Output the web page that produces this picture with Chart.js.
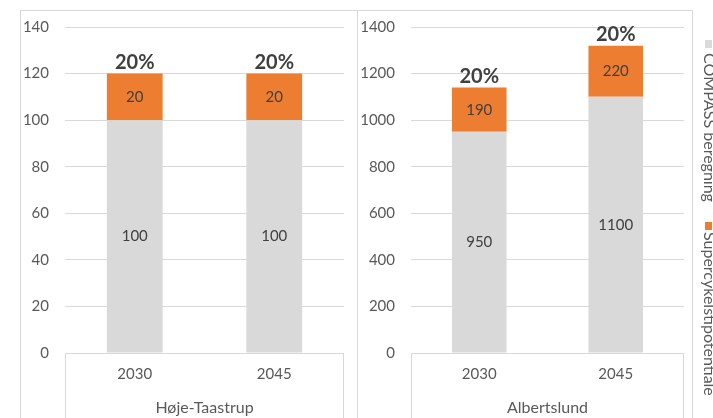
<!DOCTYPE html>
<html>
<head>
<meta charset="utf-8">
<script src="https://cdn.jsdelivr.net/npm/chart.js@4.4.1/dist/chart.umd.min.js"></script>
<style>
html,body{margin:0;padding:0;background:#fff;width:713px;height:418px;overflow:hidden;position:relative;}
.panel{position:absolute;top:10px;height:420px;border:1px solid #d9d9d9;box-sizing:border-box;}
canvas{position:absolute;}
</style>
</head>
<body>
<div class="panel" style="left:20px;width:338px"></div>
<div class="panel" style="left:357px;width:336px"></div>
<canvas id="c1" style="left:20px;top:10px" width="337" height="408"></canvas>
<canvas id="c2" style="left:357px;top:10px" width="356" height="408"></canvas>
<script>
const categories = ['2030', '2045'];
const groupLabels = ['Høje-Taastrup', 'Albertslund'];
const seriesNames = ['COMPASS beregning', 'Supercykelstipotentiale'];
const compassHT = [100, 100];
const superHT = [20, 20];
const compassAL = [950, 1100];
const superAL = [190, 220];
const pctHT = ['20%', '20%'];
const pctAL = ['20%', '20%'];
const yMaxHT = 140, yStepHT = 20;
const yMaxAL = 1400, yStepAL = 200;

const GRAY = '#d9d9d9', ORANGE = '#ed7d31', TXT = '#595959', DARK = '#404040';
const FONT = 'Lato';

const extras = {
  id: 'extras',
  afterDatasetsDraw(chart, args, opts) {
    const ctx = chart.ctx, a = chart.chartArea, H = chart.height;
    ctx.save();
    // category box
    ctx.strokeStyle = GRAY; ctx.lineWidth = 1;
    ctx.beginPath();
    const l = Math.round(a.left) + 0.5, r = Math.round(a.right) - 0.5;
    ctx.moveTo(l, a.bottom); ctx.lineTo(l, H);
    ctx.moveTo(r, a.bottom); ctx.lineTo(r, H);
    ctx.stroke();
    // group label
    ctx.fillStyle = TXT; ctx.font = '16px ' + FONT;
    ctx.textAlign = 'center'; ctx.textBaseline = 'middle';
    ctx.fillText(opts.group, (a.left + a.right) / 2, opts.groupY);
    // value labels
    ctx.fillStyle = DARK; ctx.font = '15px ' + FONT;
    chart.data.datasets.forEach((ds, i) => {
      chart.getDatasetMeta(i).data.forEach((el, j) => {
        ctx.fillText(String(ds.data[j]), el.x, (el.y + el.base) / 2);
      });
    });
    // percent labels
    const n = chart.data.datasets.length;
    ctx.font = 'bold 20px ' + FONT;
    chart.getDatasetMeta(n - 1).data.forEach((el, j) => {
      ctx.fillText(opts.pct[j], el.x, el.y - 11);
    });
    // rotated legend
    if (opts.legend) {
      const L = opts.legend;
      chart.data.datasets.forEach((ds, i) => {
        const it = L.items[i];
        ctx.fillStyle = ds.backgroundColor;
        ctx.fillRect(L.sqX, it.sqY, 7, 8);
        ctx.save();
        ctx.translate(L.textX, it.textY);
        ctx.rotate(Math.PI / 2);
        ctx.fillStyle = TXT;
        ctx.font = L.size + 'px ' + FONT;
        ctx.textAlign = 'left'; ctx.textBaseline = 'alphabetic';
        ctx.fillText(ds.label, 0, 0);
        ctx.restore();
      });
    }
    ctx.restore();
  }
};

function makeChart(id, compass, sup, pct, group, yMax, yStep, yWidth, padRight, tickLen, legend) {
  return new Chart(document.getElementById(id), {
    type: 'bar',
    data: {
      labels: categories,
      datasets: [
        { label: seriesNames[0], data: compass, backgroundColor: GRAY, barPercentage: 0.4, categoryPercentage: 1 },
        { label: seriesNames[1], data: sup, backgroundColor: ORANGE, barPercentage: 0.4, categoryPercentage: 1 }
      ]
    },
    options: {
      responsive: false,
      animation: false,
      layout: { padding: { left: 0, right: padRight, top: 17, bottom: 0 } },
      plugins: {
        legend: { display: false },
        tooltip: { enabled: false },
        extras: { group: group, groupY: 398, pct: pct, legend: legend }
      },
      scales: {
        x: {
          stacked: true,
          grid: { display: false, drawTicks: false },
          border: { display: false },
          ticks: { color: TXT, font: { family: FONT, size: 15 }, padding: 12 },
          afterFit: s => { s.height = 65; }
        },
        y: {
          stacked: true,
          min: 0, max: yMax,
          grid: { color: GRAY, drawTicks: true, tickLength: tickLen, tickColor: 'rgba(0,0,0,0)' },
          border: { display: false },
          ticks: { stepSize: yStep, color: TXT, font: { family: FONT, size: 15 }, padding: 3,
                   callback: v => String(v) },
          afterFit: s => { s.width = yWidth; }
        }
      }
    },
    plugins: [extras]
  });
}

makeChart('c1', compassHT, superHT, pctHT, groupLabels[0], yMaxHT, yStepHT, 45, 13, 13, null);
makeChart('c2', compassAL, superAL, pctAL, groupLabels[1], yMaxAL, yStepAL, 54, 29, 13, {
  sqX: 348, textX: 347, size: 16,
  items: [ { sqY: 40 - 10, textY: 53 - 10 }, { sqY: 222 - 10, textY: 232 - 10 } ]
});
</script>
</body>
</html>
